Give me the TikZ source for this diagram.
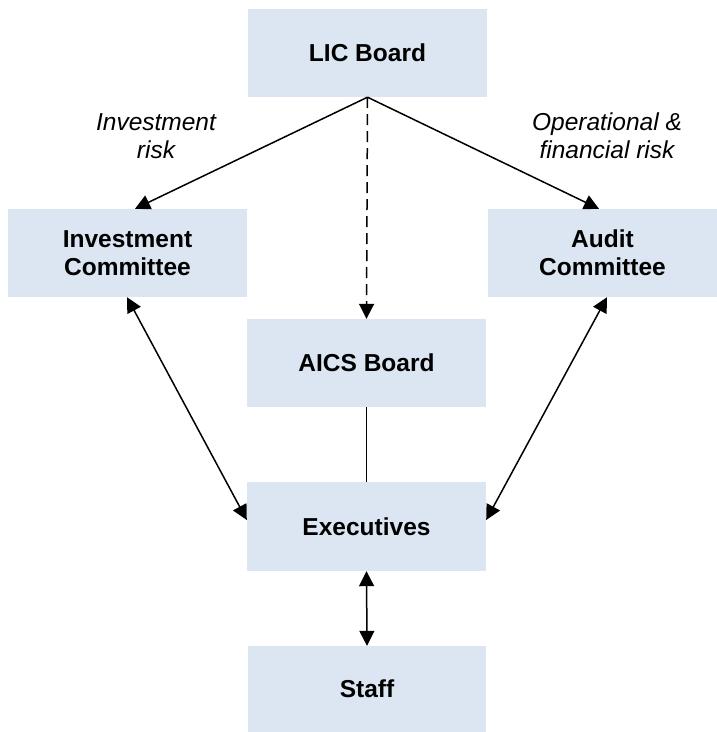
\documentclass[tikz,border=0pt]{standalone}
\usepackage{fontspec}
\setmainfont{Liberation Sans}
\usetikzlibrary{arrows.meta}
\definecolor{boxfill}{HTML}{DCE6F2}
\tikzset{
  box/.style={fill=boxfill, draw=none, minimum width=239pt, minimum height=88pt, inner sep=0pt, align=center, font=\fontsize{24.5}{28}\selectfont\bfseries},
  lbl/.style={align=center, inner sep=0pt, font=\fontsize{24.5}{28}\selectfont\itshape},
  conn/.style={line width=1.5pt, black},
  tip/.style={-{Triangle[length=15pt,width=15pt]}},
  tips/.style={{Triangle[length=15pt,width=15pt]}-{Triangle[length=15pt,width=15pt]}}
}
\begin{document}
\begin{tikzpicture}[x=1pt,y=-1pt]
\useasboundingbox (0,0) rectangle (717,732);
\node[box] (lic) at (367.5,53) {LIC Board};
\node[box] (inv) at (127.5,253) {Investment\\Committee};
\node[box, minimum width=229pt] (aud) at (602.5,253) {Audit\\Committee};
\node[box] (aics) at (366.5,363) {AICS Board};
\node[box, minimum height=89pt] (exe) at (366.5,526.5) {Executives};
\node[box, minimum width=238pt, minimum height=86pt] (stf) at (367,689) {Staff};
\node[lbl] (l1) at (156,136) {Investment\\risk};
\node[lbl] (l2) at (607,136) {Operational \&\\financial risk};
\draw[conn,tip] (lic.south) -- ([xshift=7.5pt]inv.north);
\draw[conn,tip] (lic.south) -- ([xshift=-3.5pt]aud.north);
\draw[conn,tip,dash pattern=on 11pt off 6pt] (lic.south) -- (aics.north);
\draw[conn] (aics.south) -- (exe.north);
\draw[conn,tips] ([xshift=-0.5pt]inv.south) -- ([yshift=6.5pt]exe.west);
\draw[conn,tips] ([xshift=4.5pt]aud.south) -- ([yshift=6.5pt]exe.east);
\draw[conn,tips] (exe.south) -- (stf.north);
\end{tikzpicture}
\end{document}
